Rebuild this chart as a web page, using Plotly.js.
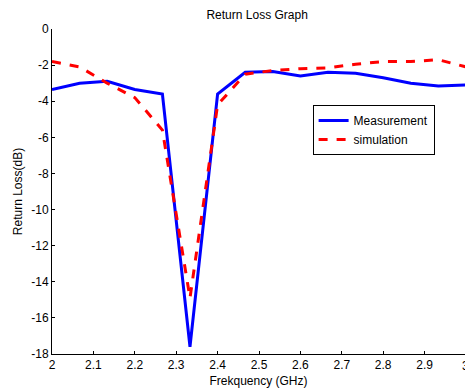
<!DOCTYPE html>
<html>
<head>
<meta charset="utf-8">
<script src="https://cdn.plot.ly/plotly-3.0.1.min.js"></script>
<style>html,body{margin:0;padding:0;background:#fff;}#chart{width:465px;height:391px;}</style>
</head>
<body>
<div id="chart"></div>
<script>
const freq = [2.0, 2.0667, 2.1333, 2.2, 2.2667, 2.3333, 2.4, 2.4667, 2.5333, 2.6, 2.6667, 2.7333, 2.8, 2.8667, 2.9333, 3.0];
const measurement = [-3.35, -3.0, -2.9, -3.35, -3.6, -17.6, -3.6, -2.4, -2.35, -2.6, -2.4, -2.45, -2.7, -3.0, -3.15, -3.1];
const simulation = [-1.8, -2.1, -3.0, -3.8, -5.6, -14.9, -4.2, -2.5, -2.3, -2.2, -2.15, -1.95, -1.8, -1.8, -1.7, -2.1];
const xTicks = [2, 2.1, 2.2, 2.3, 2.4, 2.5, 2.6, 2.7, 2.8, 2.9];
const yTicks = [0, -2, -4, -6, -8, -10, -12, -14, -16, -18];

const font = {family: 'Liberation Sans, Arial, sans-serif', size: 12, color: '#000'};

const data = [
  {x: freq, y: measurement, type: 'scatter', mode: 'lines', name: 'Measurement',
   line: {color: '#0000ff', width: 3}},
  {x: freq, y: simulation, type: 'scatter', mode: 'lines', name: 'simulation',
   line: {color: '#ff0000', width: 3, dash: 'dash'}}
];

const layout = {
  width: 465, height: 391,
  margin: {l: 52, r: 0, t: 29, b: 37},
  paper_bgcolor: '#fff', plot_bgcolor: '#fff',
  font: font,
  title: {text: 'Return Loss Graph', font: font, x: 0.553, xanchor: 'center', y: 0.962, yanchor: 'middle'},
  xaxis: {
    range: [2, 2.9976], tickvals: xTicks, ticktext: xTicks.map(String),
    ticks: 'inside', ticklen: 3, tickcolor: '#000', showgrid: false, zeroline: false,
    showline: true, linecolor: '#000', linewidth: 1, mirror: false,
    tickfont: font,
    title: {text: 'Frekquency (GHz)', font: font, standoff: 5}
  },
  yaxis: {
    range: [-18, 0], tickvals: yTicks, ticktext: yTicks.map(String),
    ticks: 'inside', ticklen: 3, tickcolor: '#000', showgrid: false, zeroline: false,
    showline: true, linecolor: '#000', linewidth: 1, mirror: false,
    tickfont: font,
    title: {text: 'Return Loss(dB)', font: font, standoff: 6}
  },
  legend: {
    x: 0.631, y: 0.766, xanchor: 'left', yanchor: 'top',
    bordercolor: '#000', borderwidth: 1, bgcolor: '#fff', font: font,
    tracegroupgap: 0
  },
  annotations: [
    {text: '3', xref: 'paper', yref: 'paper', x: 1.0024, y: 0, yshift: -3,
     xanchor: 'center', yanchor: 'top', showarrow: false, font: font}
  ],
  showlegend: true
};

Plotly.newPlot('chart', data, layout, {displayModeBar: false, staticPlot: true});
</script>
</body>
</html>
